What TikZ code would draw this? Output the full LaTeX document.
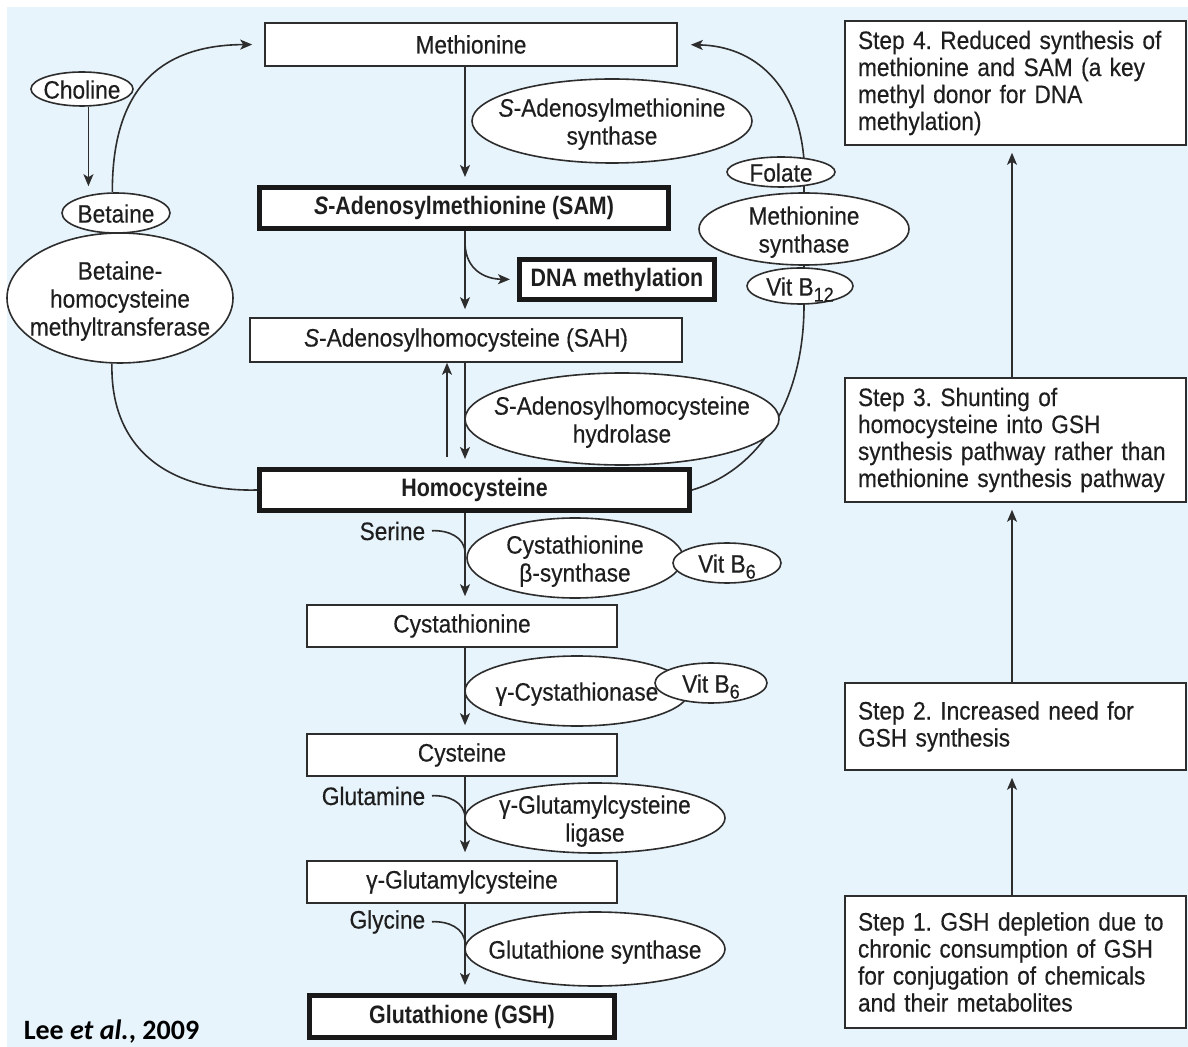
\documentclass[tikz,border=0pt]{standalone}
\usepackage{fontspec}
\setmainfont{Liberation Sans}[FakeStretch=0.9,FakeBold=0.35,BoldFeatures={FakeStretch=0.85,FakeBold=0},BoldItalicFeatures={FakeStretch=0.85,FakeBold=0}]
\newfontfamily\citefont{Carlito}
\usetikzlibrary{shapes.geometric,arrows.meta}
\definecolor{panel}{RGB}{232,244,252}
\definecolor{ink}{RGB}{30,30,30}
\definecolor{wire}{RGB}{45,45,45}
\newcommand{\enzlabel}[1]{\raisebox{-5pt}[0pt][0pt]{\makebox[0pt]{\begin{tabular}{@{}c@{}}#1\end{tabular}}}}
\newcommand{\vitsub}[1]{\raisebox{-3pt}{\fontsize{10}{12}\selectfont #1}}
\frenchspacing

\begin{document}
\begin{tikzpicture}[x=0.5pt,y=-0.5pt,>={Stealth[length=6pt,width=5pt,inset=1.5pt]},line width=0.8pt,draw=wire]
    \tikzstyle{every node}=[text=ink,font=\fontsize{12.6}{14}\selectfont]
    \tikzstyle{metabolite}=[rectangle,draw=wire,fill=white,line width=0.8pt,inner sep=0pt,minimum height=21.5pt]
    \tikzstyle{key metabolite}=[metabolite,draw=black!90,line width=2.4pt,font=\fontsize{12.6}{14}\selectfont\bfseries]
    \tikzstyle{enzyme}=[ellipse,draw=wire,fill=white,line width=0.8pt,inner sep=0pt]
    \tikzstyle{stage}=[rectangle,draw=wire,fill=white,line width=0.8pt,inner xsep=6.5pt,inner ysep=0pt,text width=157.5pt,align=left,font=\fontsize{12.6}{13.5}\selectfont]
    \tikzstyle{substrate}=[inner sep=0pt,anchor=east]
    \tikzstyle{flow}=[->,shorten >=4pt]

    % Page and panel
    \useasboundingbox (0,0) rectangle (1188,1047);
    \fill[white] (0,0) rectangle (1188,1047);
    \fill[panel] (7,7) rectangle (1188,1047);

    % Draw the metabolites of the main pathway
    \node[metabolite,minimum width=206pt] (met) at (471,44.5) {Methionine};
    \node[key metabolite,minimum width=204.6pt,minimum height=20.6pt] (sam) at (464,208) {\textit{S}-Adenosylmethionine (SAM)};
    \node[key metabolite,minimum width=97.6pt,minimum height=20.1pt] (dna) at (617,279.5) {DNA methylation};
    \node[metabolite,minimum width=216pt,minimum height=22pt] (sah) at (466,340) {\textit{S}-Adenosylhomocysteine (SAH)};
    \node[key metabolite,minimum width=215.1pt,minimum height=20.6pt] (hcy) at (474.5,490) {Homocysteine};
    \foreach \name/\txt/\y in {cysta/Cystathionine/626, cys/Cysteine/755, ggc/γ-Glutamylcysteine/882}
        \node[metabolite,minimum width=155pt,minimum height=21pt] (\name) at (462,\y) {\txt};
    \node[key metabolite,minimum width=152.6pt,minimum height=21.1pt] (gsh) at (462,1016.5) {Glutathione (GSH)};

    % Homocysteine back to methionine (runs behind the cofactors)
    \draw[->,shorten >=6.5pt] (hcy.east) .. controls (760,470) and (804,400) .. (804,305)
        -- (804,160) .. controls (798,85) and (755,46) .. (met.east);

    % Draw the enzymes and cofactors
    \node[enzyme,minimum width=140pt,minimum height=42pt] (sams) at (612,121) {\enzlabel{\textit{S}-Adenosylmethionine\\synthase}};
    \node[enzyme,minimum width=54pt,minimum height=15pt] (folate) at (781,172) {\enzlabel{Folate}};
    \node[enzyme,minimum width=105pt,minimum height=36pt] (msyn) at (804,229) {\enzlabel{Methionine\\synthase}};
    \node[enzyme,minimum width=53pt,minimum height=18pt] (b12) at (800,286) {\enzlabel{Vit B\vitsub{12}}};
    \node[enzyme,minimum width=51pt,minimum height=17pt] (choline) at (82,89) {\enzlabel{Choline}};
    \node[enzyme,minimum width=54pt,minimum height=20pt] (betaine) at (116,213) {\enzlabel{Betaine}};
    \node[enzyme,minimum width=113pt,minimum height=65pt] (bhmt) at (120,298) {\enzlabel{Betaine-\\homocysteine\\methyltransferase}};
    \node[enzyme,minimum width=157pt,minimum height=46pt] (sahh) at (622,419) {\enzlabel{\textit{S}-Adenosylhomocysteine\\hydrolase}};
    \node[enzyme,minimum width=108pt,minimum height=40pt] (cbs) at (575,558) {\enzlabel{Cystathionine\\β-synthase}};
    \node[enzyme,minimum width=54pt,minimum height=20pt] (b6a) at (727,563) {\enzlabel{Vit B\vitsub{6}}};
    \node[enzyme,minimum width=112pt,minimum height=35pt] (cth) at (577,691) {\enzlabel{γ-Cystathionase}};
    \node[enzyme,minimum width=56pt,minimum height=20pt] (b6b) at (711,683) {\enzlabel{Vit B\vitsub{6}}};
    \node[enzyme,minimum width=130pt,minimum height=35pt] (gcl) at (595,818) {\enzlabel{γ-Glutamylcysteine\\ligase}};
    \node[enzyme,minimum width=130pt,minimum height=37pt] (gss) at (595,949) {\enzlabel{Glutathione synthase}};

    % Connect the main pathway
    \coordinate (spine) at (465,0);
    \foreach \a/\b in {met/sam, sam/sah, sah/hcy, hcy/cysta, cysta/cys, cys/ggc, ggc/gsh}
        \draw[flow] (spine |- \a.south) -- (spine |- \b.north);
    \coordinate (fork) at (465,244);
    \draw[->,shorten >=3.5pt] (fork) .. controls (466,270) and (485,279) .. (dna.west);
    \coordinate (back) at (447,457);
    \draw[->] (back) -- (back |- sah.south);

    % Betaine route
    \draw[flow,shorten >=3pt] (choline.290) -- (choline.290 |- betaine.north);
    \draw[->,shorten >=6pt] (betaine.100) .. controls (112,100) and (150,45) .. (met.west);
    \draw (bhmt.263) .. controls (110,450) and (170,492) .. (hcy.west);

    % Draw the co-substrates joining the pathway
    \foreach \name/\txt/\y in {ser/Serine/531, gln/Glutamine/796, gly/Glycine/922}{
        \node[substrate] (\name) at (426,\y) {\txt};
        \coordinate (\name-in) at (465,\y+22);
        \draw[shorten <=3pt] (\name.east) .. controls +(22,-1) and +(0,-16) .. (\name-in);
    }

    % Draw the steps
    \node[stage,minimum height=62pt] (s4) at (1015.5,83) {Step 4. Reduced synthesis of\\methionine and SAM (a key\\methyl donor for DNA\\methylation)};
    \node[stage,minimum height=62pt] (s3) at (1015.5,440) {Step 3. Shunting of\\homocysteine into GSH\\synthesis pathway rather than\\methionine synthesis pathway};
    \node[stage,minimum height=43.5pt] (s2) at (1015.5,726.5) {Step 2. Increased need for\\GSH synthesis};
    \node[stage,minimum height=66pt] (s1) at (1015.5,962) {Step 1. GSH depletion due to\\chronic consumption of GSH\\for conjugation of chemicals\\and their metabolites};
    \coordinate (stepline) at (1012,0);
    \foreach \a/\b in {s1/s2, s2/s3, s3/s4}
        \draw[->,shorten >=3.5pt] (stepline |- \a.north) -- (stepline |- \b.south);

    % Source
    \node[anchor=base west,inner sep=0pt,text=black,font=\citefont\bfseries\fontsize{14}{16}\selectfont] (src) at (23,1039) {Lee \textit{et al.}, 2009};
\end{tikzpicture}
\end{document}
